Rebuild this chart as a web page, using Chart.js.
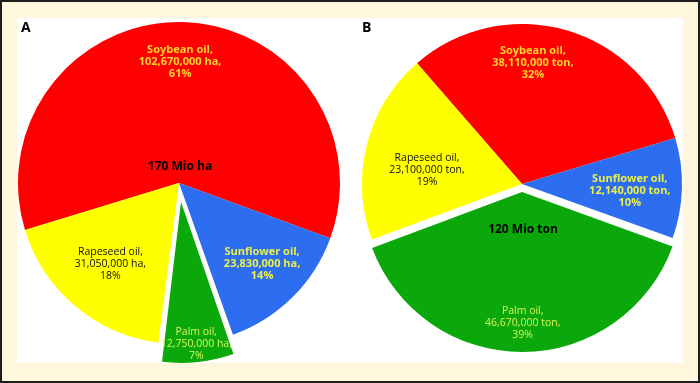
<!DOCTYPE html>
<html><head><meta charset="utf-8">
<script src="https://cdn.jsdelivr.net/npm/chart.js@4"></script>
<style>
html,body{margin:0;padding:0;width:700px;height:383px;overflow:hidden;background:#FFF7DD;}
#frame{position:absolute;left:0;top:0;width:700px;height:383px;box-sizing:border-box;border:2px solid #1e1e1e;}
#panel{position:absolute;left:17px;top:18px;width:666px;height:345px;background:#fff;}
.tag{position:absolute;font:bold 14px "Open Sans",sans-serif;color:#000;line-height:18px;}
canvas{position:absolute;top:0;}
</style></head><body>
<div id="frame"></div><div id="panel"></div>
<canvas id="cA" width="358" height="366" style="left:0"></canvas>
<canvas id="cB" width="356" height="368" style="left:344px"></canvas>
<div class="tag" style="left:21px;top:18px">A</div>
<div class="tag" style="left:362px;top:18px">B</div>
<script>
// ---- data ----
const categories = ['Soybean oil', 'Sunflower oil', 'Palm oil', 'Rapeseed oil'];
const areaHa = [102670000, 23830000, 12750000, 31050000];
const areaPct = [61, 14, 7, 18];
const productionTon = [38110000, 12140000, 46670000, 23100000];
const productionPct = [32, 10, 39, 19];
const totalLabels = ['170 Mio ha', '120 Mio ton'];
const units = ['ha', 'ton'];

// ---- styles ----
const sliceColors = ['#FF0000', '#2D6DF0', '#0AA80A', '#FFFF00'];
const labelColors = ['#FFD52A', '#EAF04A', '#D6F55A', '#111111'];
const labelBold = [true, true, false, false];
const FONT = '"Open Sans", sans-serif';

function makeLines(values, pct, unit) {
  return categories.map((c, i) => [c + ',', values[i].toLocaleString('en-US') + ' ' + unit + ',', pct[i] + '%']);
}

const radiusFix = {
  id: 'radiusFix',
  beforeDatasetsDraw(chart) {
    const meta = chart.getDatasetMeta(0);
    const R = meta.controller.outerRadius;
    meta.data.forEach(arc => {
      const off = (arc.options.offset || 0) / 4;
      const fix = 1 - Math.sin(Math.min(Math.PI, arc.circumference || 0));
      arc.outerRadius = R - off * fix;
    });
  }
};

const sliceLabels = {
  id: 'sliceLabels',
  afterDatasetsDraw(chart, args, opts) {
    const ctx = chart.ctx;
    const meta = chart.getDatasetMeta(0);
    const R = meta.controller.outerRadius;
    meta.data.forEach((arc, i) => {
      const mid = (arc.startAngle + arc.endAngle) / 2;
      const off = (arc.options.offset || 0) / 4;
      const cx = arc.x + Math.cos(mid) * off, cy = arc.y + Math.sin(mid) * off;
      const pl = opts.placement[i];
      const a = mid + pl.shift * Math.PI / 180;
      const lx = cx + Math.cos(a) * R * pl.frac, ly = cy + Math.sin(a) * R * pl.frac;
      const lines = opts.lines[i];
      ctx.save();
      ctx.font = (labelBold[i] ? 'bold 11px ' : '10.5px ') + FONT;
      ctx.fillStyle = labelColors[i];
      ctx.textAlign = 'center';
      ctx.textBaseline = 'middle';
      lines.forEach((t, k) => ctx.fillText(t, lx, ly + (k - (lines.length - 1) / 2) * 12));
      ctx.restore();
    });
    const c = meta.data[0];
    ctx.save();
    ctx.font = 'bold 12px ' + FONT;
    ctx.fillStyle = '#000';
    ctx.textAlign = 'center';
    ctx.textBaseline = 'middle';
    ctx.fillText(opts.total, c.x + opts.totalDx, c.y + opts.totalDy);
    ctx.restore();
  }
};

function makePie(id, values, pct, unit, total, rotation, radius, palmOffset, placement, totalDy) {
  return new Chart(document.getElementById(id), {
    type: 'pie',
    data: {
      labels: categories,
      datasets: [{
        data: values,
        backgroundColor: sliceColors,
        borderColor: sliceColors,
        borderWidth: 0,
        offset: categories.map((c, i) => i === 2 ? palmOffset : 0)
      }]
    },
    options: {
      responsive: false,
      animation: false,
      events: [],
      rotation: rotation,
      radius: radius,
      layout: { padding: 0 },
      plugins: {
        legend: { display: false },
        tooltip: { enabled: false },
        sliceLabels: { lines: makeLines(values, pct, unit), placement: placement, total: total, totalDx: 1, totalDy: totalDy }
      }
    },
    plugins: [radiusFix, sliceLabels]
  });
}

makePie('cA', areaHa, areaPct, units[0], totalLabels[0], -107, 161, 76,
  [{shift: -1, frac: 0.75}, {shift: -1, frac: 0.72}, {shift: 0, frac: 0.89}, {shift: 0, frac: 0.66}], -16);
makePie('cB', productionTon, productionPct, units[1], totalLabels[1], -41, 160, 32,
  [{shift: -11, frac: 0.76}, {shift: 2, frac: 0.675}, {shift: 0, frac: 0.82}, {shift: -6, frac: 0.6}], 46);
</script>
</body></html>
